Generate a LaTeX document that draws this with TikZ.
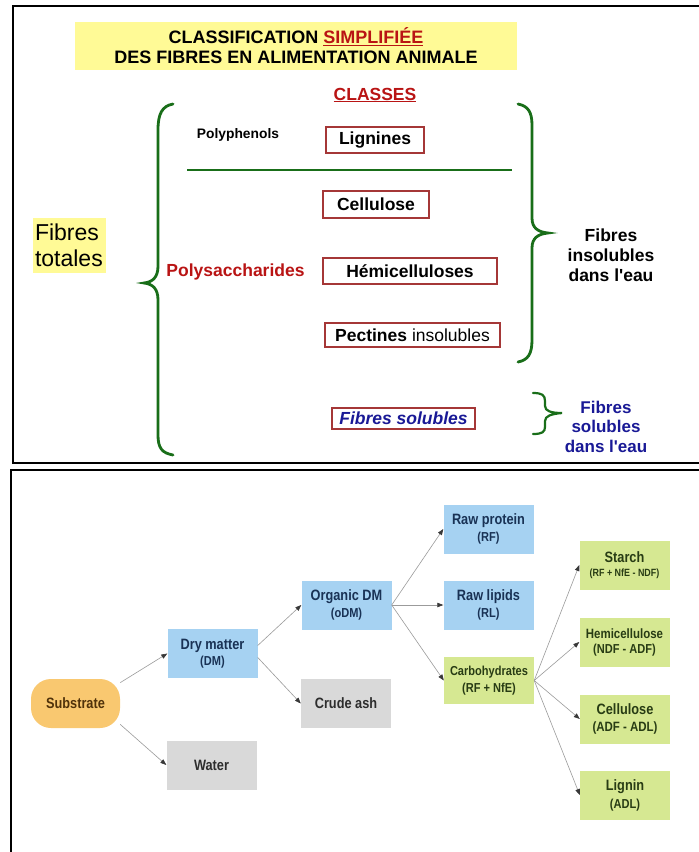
\documentclass[tikz,border=0pt]{standalone}
\usepackage{fontspec}
\setmainfont{Liberation Sans}
\newfontfamily\narrowfont[FakeStretch=0.85]{Liberation Sans}
\usetikzlibrary{arrows.meta,shadows}
\definecolor{titleyellow}{RGB}{255,250,150}
\definecolor{darkred}{RGB}{185,20,20}
\definecolor{boxred}{RGB}{165,55,55}
\definecolor{bracegreen}{RGB}{25,110,25}
\definecolor{solblue}{RGB}{25,25,150}
\definecolor{fillblue}{RGB}{166,210,242}
\definecolor{fillgrey}{RGB}{217,217,217}
\definecolor{fillgreen}{RGB}{214,232,146}
\definecolor{fillorange}{RGB}{249,200,112}
\definecolor{txtnavy}{RGB}{25,50,85}
\definecolor{txtgreen}{RGB}{40,60,20}
\definecolor{txtgrey}{RGB}{45,45,45}
\definecolor{txtbrown}{RGB}{80,50,10}
\definecolor{arrgrey}{RGB}{155,155,155}
\newcommand{\twol}[4]{{\fontsize{#3}{16}\selectfont #1}\\{\fontsize{#4}{16}\selectfont #2}}
\begin{document}
\begin{tikzpicture}[x=1pt,y=-1pt,
  frame/.style={line width=2.2pt, black},
  clsbox/.style={draw=boxred, line width=1.1pt, fill=white, inner sep=0pt,
    drop shadow={shadow xshift=1.3pt, shadow yshift=-1.3pt, fill=boxred!30, opacity=0.6},
    font=\bfseries\fontsize{17.5}{20}\selectfont},
  brace/.style={draw=bracegreen, line width=2.8pt, line cap=round},
  flow/.style={inner sep=0pt, minimum width=90pt, minimum height=49pt, align=center,
    font=\narrowfont\bfseries\fontsize{12}{16.5}\selectfont},
  bluebox/.style={flow, fill=fillblue, text=txtnavy},
  greybox/.style={flow, fill=fillgrey, text=txtgrey},
  greenbox/.style={flow, fill=fillgreen, text=txtgreen},
  arr/.style={draw=arrgrey, line width=0.6pt, -{Triangle[length=6pt,width=4.5pt,color=black!78]}}
]
\useasboundingbox (0,0) rectangle (699,852);
\fill[white] (0,0) rectangle (699,852);

% ---------- Panel 1 ----------
\draw[frame] (710,6) -- (13,6) -- (13,463) -- (710,463);

\node[fill=titleyellow, minimum width=442pt, minimum height=48pt, inner sep=0pt,
  align=center, font=\bfseries\fontsize{18}{20}\selectfont] (title) at (296,46)
  {CLASSIFICATION \textcolor{darkred}{\underline{SIMPLIFIÉE}}\\DES FIBRES EN ALIMENTATION ANIMALE};

\node[text=darkred, font=\bfseries\fontsize{17.5}{20}\selectfont] (classes) at (375,95) {\underline{CLASSES}};

\node[fill=titleyellow, minimum width=73pt, minimum height=55pt, inner sep=0pt, align=left,
  text width=69pt, font=\fontsize{23}{26}\selectfont] (totales) at (69.5,245.5) {Fibres\\totales};

\node[font=\bfseries\fontsize{13.8}{16}\selectfont] (polyph) at (238,135) {Polyphenols};
\node[text=darkred, font=\bfseries\fontsize{17.5}{20}\selectfont] (polysac) at (235.5,272) {Polysaccharides};

\node[clsbox, minimum width=98pt, minimum height=26pt] (lign) at (375,140) {Lignines};
\node[clsbox, minimum width=106pt, minimum height=27pt] (cell1) at (376,204.5) {Cellulose};
\node[clsbox, minimum width=174pt, minimum height=26pt] (hemi1) at (410,271) {Hémicelluloses};
\node[clsbox, minimum width=175pt, minimum height=24pt] (pect) at (412.5,335) {Pectines \mdseries insolubles};
\node[clsbox, minimum width=143pt, minimum height=21pt, text=solblue,
  font=\bfseries\itshape\fontsize{17.5}{20}\selectfont] (sol) at (403.5,418.5) {Fibres solubles};

\coordinate (lineL) at (187,170);
\coordinate (lineR) at (512,170);
\draw[draw=bracegreen, line width=2.8pt] (lineL) -- (lineR);

% left big brace
\draw[brace] (173,104) .. controls (162,106) and (158,114) .. (158,130) -- (158,266)
  .. controls (158,277) and (153,282) .. (144,283)
  .. controls (153,284) and (158,289) .. (158,300) -- (158,435)
  .. controls (158,448) and (162,453) .. (173,455);
% right brace
\draw[brace] (518,104) .. controls (528,106) and (532,112) .. (532,125) -- (532,218)
  .. controls (532,228) and (538,232) .. (548,233)
  .. controls (538,234) and (532,238) .. (532,248) -- (532,340)
  .. controls (532,354) and (528,360) .. (518,362);
% small brace
\draw[brace, line width=2.2pt] (533,393) .. controls (542,393) and (545,395) .. (545,401) -- (545,406)
  .. controls (545,411) and (551,413) .. (562,413)
  .. controls (551,414) and (545,416) .. (545,421) -- (545,427)
  .. controls (545,432) and (542,434) .. (533,434);

\node[align=center, font=\bfseries\fontsize{17.5}{20}\selectfont] (insol) at (611,255) {Fibres\\insolubles\\dans l\textquotesingle eau};
\node[align=center, text=solblue, font=\bfseries\fontsize{17}{19.5}\selectfont] (solt) at (606,426.5) {Fibres\\solubles\\dans l\textquotesingle eau};

% ---------- Panel 2 ----------
\draw[frame] (710,470) -- (11,470) -- (11,860);

\node[flow, fill=fillorange, text=txtbrown, rounded corners=20pt, minimum width=89pt,
  font=\narrowfont\bfseries\fontsize{15}{16}\selectfont] (sub) at (75.5,703.5) {Substrate};
\node[bluebox] (dm) at (212.5,653.5) {\twol{Dry matter}{(DM)}{15}{13}};
\node[greybox, font=\narrowfont\bfseries\fontsize{15}{16}\selectfont] (water) at (211.5,765) {Water};
\node[bluebox] (odm) at (346.5,605) {\twol{Organic DM}{(oDM)}{15}{13}};
\node[greybox, font=\narrowfont\bfseries\fontsize{15}{16}\selectfont] (ash) at (346,703.5) {Crude ash};
\node[bluebox] (rp) at (488.5,529) {\twol{Raw protein}{(RF)}{15}{13}};
\node[bluebox] (rl) at (488.5,605) {\twol{Raw lipids}{(RL)}{15}{13}};
\node[greenbox, minimum height=47pt] (carb) at (489,680.5) {\twol{Carbohydrates}{(RF + NfE)}{13}{13}};
\node[greenbox, font=\narrowfont\bfseries\fontsize{10.5}{14.5}\selectfont] (starch) at (624.5,565) {{\fontsize{15}{16}\selectfont Starch}\\(RF + NfE - NDF)};
\node[greenbox, font=\narrowfont\bfseries\fontsize{13}{15}\selectfont] (hemi) at (624.5,642) {{\fontsize{13.5}{15}\selectfont Hemicellulose}\\(NDF - ADF)};
\node[greenbox] (cell) at (625,719) {\twol{Cellulose}{(ADF - ADL)}{15}{13.5}};
\node[greenbox, font=\narrowfont\bfseries\fontsize{12}{18}\selectfont] (lig) at (625,795) {{\fontsize{15}{16}\selectfont Lignin}\\{\fontsize{13}{16}\selectfont (ADL)}};

\draw[arr] (sub.25) -- (dm.west);
\draw[arr] (sub.-25) -- (water.west);
\draw[arr] (dm.10) -- (odm.west);
\draw[arr] (dm.-5) -- (ash.west);
\draw[arr] (odm.east) -- (rp.west);
\draw[arr] (odm.east) -- (rl.west);
\draw[arr] (odm.east) -- (carb.west);
\draw[arr] (carb.east) -- (starch.west);
\draw[arr] (carb.east) -- (hemi.west);
\draw[arr] (carb.east) -- (cell.west);
\draw[arr] (carb.east) -- (lig.west);
\end{tikzpicture}
\end{document}
